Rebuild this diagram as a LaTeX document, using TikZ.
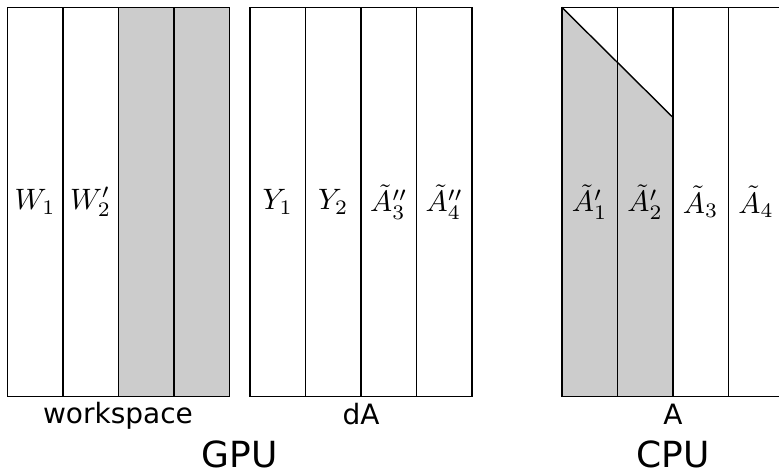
\documentclass[tikz,border=0pt]{standalone}
\usepackage{fontspec}
\newfontfamily\labelfont{DejaVu Sans}
\definecolor{cellgray}{RGB}{204,204,204}
\newcommand{\cellmath}[1]{\scalebox{2.95}{$#1$}}
\begin{document}
\begin{tikzpicture}[x=1pt,y=-1pt,
  col/.style={draw, line width=1.4pt, minimum width=55.5pt, minimum height=389pt,
    inner sep=0pt, outer sep=0pt, anchor=north west},
  grayed/.style={fill=cellgray},
  caption/.style={font=\labelfont\fontsize{28}{34}\selectfont, anchor=base, inner sep=0pt},
  bigcaption/.style={font=\labelfont\fontsize{36}{43}\selectfont, anchor=base, inner sep=0pt}]
\useasboundingbox (0,0) rectangle (779,474);
\clip (0,0) rectangle (779,474);

% GPU workspace buffer
\node[col]         (w1) at (7.3,7.3)   {\cellmath{W_1}};
\node[col]         (w2) at (62.8,7.3)  {\cellmath{W_2'}};
\node[col,grayed]  (w3) at (118.3,7.3) {};
\node[col,grayed]  (w4) at (173.8,7.3) {};

% GPU dA buffer
\node[col] (d1) at (250,7.3)   {\cellmath{Y_1}};
\node[col] (d2) at (305.5,7.3) {\cellmath{Y_2}};
\node[col] (d3) at (361,7.3)   {\cellmath{\tilde{A}_3''}};
\node[col] (d4) at (416.5,7.3) {\cellmath{\tilde{A}_4''}};

% CPU matrix A: shaded lower part of the first two panels
\coordinate (diagend) at (673,117.5);
\fill[cellgray] (561.8,7.3) -- (diagend) -- (673,396.3) -- (561.8,396.3) -- cycle;
\node[col] (a1) at (561.8,7.3) {\cellmath{\tilde{A}_1'}};
\node[col] (a2) at (617.3,7.3) {\cellmath{\tilde{A}_2'}};
\node[col] (a3) at (672.8,7.3) {\cellmath{\tilde{A}_3}};
\node[col] (a4) at (728.3,7.3) {\cellmath{\tilde{A}_4}};
\draw[line width=1.4pt] (a1.north west) -- (diagend);

% captions
\node[caption] (lw) at (118,423.5) {workspace};
\node[caption] (ld) at (361,424.5) {dA};
\node[caption] (la) at (673,424.5) {A};
\node[bigcaption] (gpu) at (239.5,467) {GPU};
\node[bigcaption] (cpu) at (673,467) {CPU};
\end{tikzpicture}
\end{document}
